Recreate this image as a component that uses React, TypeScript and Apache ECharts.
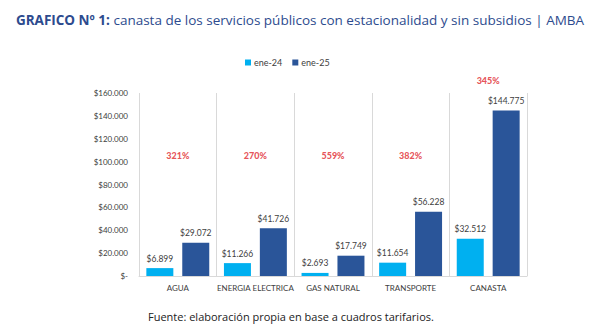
import React, { useEffect, useRef } from "react";
import * as echarts from "echarts";

const categories = ["AGUA", "ENERGIA ELECTRICA", "GAS NATURAL", "TRANSPORTE", "CANASTA"];
const ene24 = [6899, 11266, 2693, 11654, 32512];
const ene25 = [29072, 41726, 17749, 56228, 144775];
const pctLabels = ["321%", "270%", "559%", "382%", "345%"];
const pctLevels = [105000, 105000, 105000, 105000, 171000];
const yTicks = { min: 0, max: 160000, interval: 20000 };

const fmt = (v: number) =>
  v === 0 ? "$-" : "$" + Math.round(v).toString().replace(/\B(?=(\d{3})+(?!\d))/g, ".");

export default function App() {
  const ref = useRef<HTMLDivElement>(null);
  useEffect(() => {
    if (!ref.current) return;
    const chart = echarts.init(ref.current, null, { renderer: "svg" });
    const font = "Lato, 'Open Sans', sans-serif";
    chart.setOption({
      animation: false,
      textStyle: { fontFamily: font },
      title: {
        text: "{b|GRAFICO Nº 1:} canasta de los servicios públicos con estacionalidad y sin subsidios | AMBA",
        left: "center",
        top: 8,
        textStyle: {
          fontFamily: "'Open Sans', sans-serif",
          fontSize: 13.5,
          fontWeight: "normal",
          color: "#2D4B8E",
          rich: {
            b: { fontFamily: "'Open Sans', sans-serif", fontSize: 13.5, fontWeight: "bold", color: "#2D4B8E" },
          },
        },
      },
      legend: {
        data: ["ene-24", "ene-25"],
        top: 53,
        left: 240,
        itemWidth: 6,
        itemHeight: 6,
        itemGap: 10,
        icon: "rect",
        textStyle: { fontSize: 9, color: "#404040", fontFamily: font, padding: [0, 0, 0, -2] },
      },
      grid: { left: 139, right: 73, top: 93, bottom: 56 },
      xAxis: {
        type: "category",
        data: categories,
        axisLine: { show: true, lineStyle: { color: "#d9d9d9" } },
        axisTick: { show: false },
        splitLine: { show: true, interval: 0, lineStyle: { color: "#d9d9d9", width: 1 } },
        axisLabel: { interval: 0, fontSize: 8, color: "#404040", margin: 8, fontFamily: font },
      },
      yAxis: {
        type: "value",
        min: yTicks.min,
        max: yTicks.max,
        interval: yTicks.interval,
        axisLine: { show: false },
        axisTick: { show: false },
        splitLine: { show: false },
        axisLabel: { fontSize: 8, color: "#404040", margin: 11, formatter: fmt, fontFamily: font },
      },
      series: [
        {
          name: "ene-24",
          type: "bar",
          data: ene24,
          barWidth: 27,
          barGap: "33%",
          itemStyle: { color: "#00B0F0" },
          label: {
            show: true,
            position: "top",
            distance: 5,
            fontSize: 8.5,
            color: "#404040",
            fontFamily: font,
            formatter: (p: any) => fmt(p.value),
          },
        },
        {
          name: "ene-25",
          type: "bar",
          data: ene25,
          barWidth: 27,
          itemStyle: { color: "#2A5599" },
          label: {
            show: true,
            position: "top",
            distance: 5,
            fontSize: 8.5,
            color: "#404040",
            fontFamily: font,
            formatter: (p: any) => fmt(p.value),
          },
        },
        {
          name: "pct",
          type: "scatter",
          data: pctLevels,
          symbolSize: 0,
          clip: false,
          silent: true,
          label: {
            show: true,
            position: "inside",
            fontSize: 9,
            fontWeight: 900,
            color: "#E0282E",
            fontFamily: font,
            formatter: (p: any) => pctLabels[p.dataIndex],
          },
        },
      ],
      graphic: [
        {
          type: "text",
          left: 148,
          top: 311,
          style: {
            text: "Fuente: elaboración propia en base a cuadros tarifarios.",
            fontSize: 11,
            fill: "#222",
            fontFamily: "'Open Sans', sans-serif",
          },
        },
      ],
    });
    return () => chart.dispose();
  }, []);
  return <div ref={ref} style={{ width: 600, height: 332, position: "absolute", left: 0, top: 0 }} />;
}
